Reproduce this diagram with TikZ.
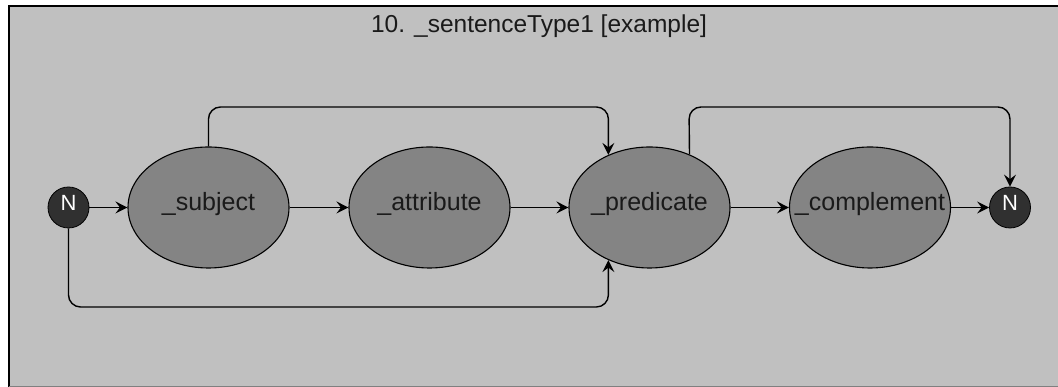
\documentclass[tikz,border=0pt]{standalone}
\usepackage{fontspec}
\setmainfont{Liberation Sans}
\usetikzlibrary{arrows.meta,shapes.geometric}

\definecolor{panel}{RGB}{192,192,192}
\definecolor{statefill}{RGB}{132,132,132}
\definecolor{termfill}{RGB}{48,48,48}
\definecolor{inkdark}{RGB}{26,26,26}

\tikzset{
  % negative x-sep keeps every ellipse at the same fixed size, even for long labels
  state/.style={ellipse, draw=black, line width=1.1pt, fill=statefill,
    minimum width=161pt, minimum height=121pt, inner xsep=-20pt, inner ysep=0pt,
    text height=18pt, text depth=11pt, text=inkdark,
    font=\fontsize{25}{30}\selectfont},
  terminal/.style={circle, draw=black, line width=0.8pt, fill=termfill,
    minimum size=41pt, inner sep=0pt, text=white,
    text height=18pt, text depth=11pt,
    font=\fontsize{22}{26}\selectfont},
  flow/.style={draw=black, line width=1.4pt, rounded corners=12pt,
    -{Stealth[length=12pt,width=12pt,inset=4.5pt]}},
}

\begin{document}
\begin{tikzpicture}[x=1pt,y=1pt]
  % page and panel
  \useasboundingbox (0,0) rectangle (1058,387);
  \fill[white] (0,0) rectangle (1058,387);
  \fill[panel] (8.5,0.5) rectangle (1058,380.5);
  \draw[black, line width=2pt] (8.5,0) -- (8.5,380.5) -- (1058,380.5);
  \draw[gray, line width=1pt] (8.5,0.5) -- (1058,0.5);

  % heading
  \node[anchor=base, text=inkdark, font=\fontsize{24.5}{29}\selectfont]
    (title) at (539,354) {10. \_sentenceType1 [example]};

  % states
  \node[terminal]  (start) at (68.5,179.5) {N};
  \node[state]     (subj)  at (208.5,179.5) {\_subject};
  \node[state]     (attr)  at (429.5,179.5) {\_attribute};
  \node[state]     (pred)  at (649.5,179.5) {\_predicate};
  \node[state]     (comp)  at (870,179.5)   {\_complement};
  \node[terminal]  (stop)  at (1010,179.5)  {N};

  % main chain
  \draw[flow] (start) -- (subj);
  \draw[flow] (subj) -- (attr);
  \draw[flow] (attr) -- (pred);
  \draw[flow] (pred) -- (comp);
  \draw[flow] (comp) -- (stop);

  % bypass routes
  \coordinate (topA) at (208.5,280);
  \coordinate (topB) at (689,280);
  \coordinate (lowA) at (68.5,80);
  \draw[flow] (subj.north) -- (topA) -| (pred.128.7);
  \draw[flow] (pred.53.1) -- (topB) -| (stop.north);
  \draw[flow] (start.south) -- (lowA) -| (pred.-128.7);
\end{tikzpicture}
\end{document}
